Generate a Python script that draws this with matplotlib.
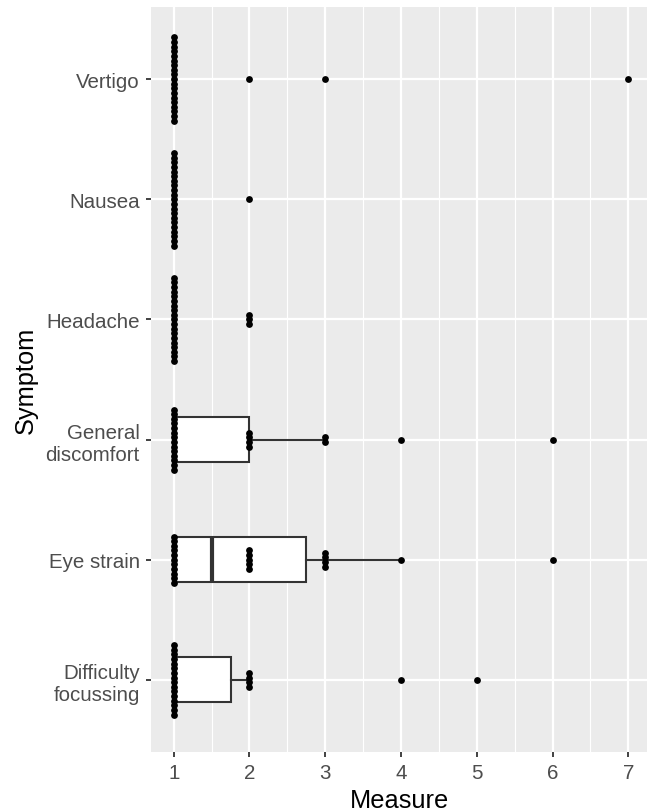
import numpy as np
import matplotlib
matplotlib.use("Agg")
import matplotlib.pyplot as plt

# ---------------- data ----------------
symptoms = ["Difficulty\nfocussing", "Eye strain", "General\ndiscomfort",
            "Headache", "Nausea", "Vertigo"]
levels = [1, 2, 3, 4, 5, 6, 7]
# number of participants giving each measure level (1..7)
difficulty_focussing = [16, 4, 0, 1, 1, 0, 0]
eye_strain = [11, 5, 4, 1, 0, 1, 0]
general_discomfort = [14, 4, 2, 1, 0, 1, 0]
headache = [19, 3, 0, 0, 0, 0, 0]
nausea = [21, 1, 0, 0, 0, 0, 0]
vertigo = [19, 1, 1, 0, 0, 0, 1]
xticks = [1, 2, 3, 4, 5, 6, 7]

all_counts = [difficulty_focussing, eye_strain, general_discomfort,
              headache, nausea, vertigo]

# ---------------- style ----------------
W, H = 647, 812
DPI = 100
plt.rcParams['font.family'] = ['Liberation Sans', 'DejaVu Sans']

fig = plt.figure(figsize=(W / DPI, H / DPI), dpi=DPI)
left_px, right_px, top_px, bottom_px = 151, 651, 8, 753
ax = fig.add_axes([left_px / W, (H - bottom_px) / H,
                   (right_px - left_px) / W, (bottom_px - top_px) / H])
ax.set_facecolor('#EBEBEB')
for s in ax.spines.values():
    s.set_visible(False)

positions = np.arange(1, len(symptoms) + 1)

# boxplots
data = [np.repeat(levels, c) for c in all_counts]
bp = ax.boxplot(data, positions=positions, vert=False, widths=0.375,
                patch_artist=True, showcaps=False, showfliers=False,
                whis=1.5, zorder=2)
for b in bp['boxes']:
    b.set_facecolor('white')
    b.set_edgecolor('#333333')
    b.set_linewidth(1.5)
for w in bp['whiskers']:
    w.set_color('#333333')
    w.set_linewidth(1.5)
for m in bp['medians']:
    m.set_color('#333333')
    m.set_linewidth(3.0)

# dot stacks (centered)
dot_step = 0.0385
for pos, counts in zip(positions, all_counts):
    for lv, n in zip(levels, counts):
        if n == 0:
            continue
        offs = (np.arange(n) - (n - 1) / 2.0) * dot_step
        ax.scatter(np.full(n, lv), pos + offs, s=24, color='black',
                   linewidths=0, zorder=3)

ax.set_xlim(0.7, 7.3)
ax.set_ylim(0.4, len(symptoms) + 0.6)

# grid and ticks
ax.set_xticks(xticks)
ax.set_xticklabels([str(x) for x in xticks])
ax.set_xticks([x + 0.5 for x in xticks[:-1]], minor=True)
ax.set_yticks(positions)
ax.set_yticklabels(symptoms)
ax.grid(which='major', color='white', linewidth=1.6)
ax.grid(which='minor', axis='x', color='white', linewidth=0.8)
ax.set_axisbelow(True)
ax.tick_params(which='minor', length=0)
ax.tick_params(which='major', length=3.6, width=1.3, color='#333333',
               labelcolor='#4D4D4D', labelsize=14.8, pad=4.5)

# axis titles
fig.text(399 / W, (H - 808) / H, 'Measure', ha='center', va='baseline',
         fontsize=18.3, color='black')
fig.text(26 / W, (H - 380) / H, 'Symptom', ha='center', va='center',
         rotation=90, fontsize=18.3, color='black')

fig.savefig('out.png', dpi=DPI)
